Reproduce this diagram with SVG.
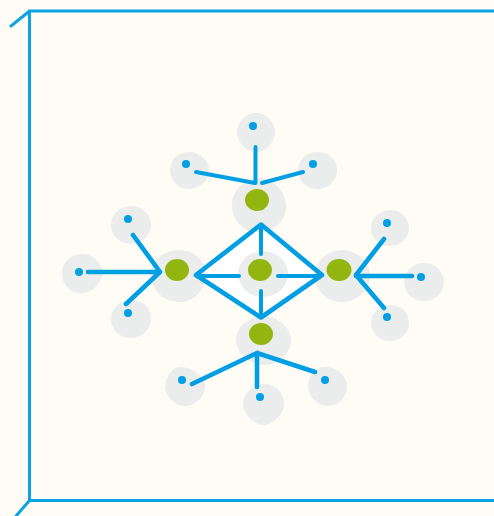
<svg xmlns="http://www.w3.org/2000/svg" width="494" height="516" viewBox="0 0 494 516">
<style>
.l{fill:none;stroke:#009fe3;stroke-width:4;stroke-linecap:round;stroke-linejoin:round}
.m{fill:none;stroke:#009fe3;stroke-width:4.600;stroke-linecap:round;stroke-linejoin:round}
.f{fill:none;stroke:#0ba3e4;stroke-width:3;stroke-linecap:round;stroke-linejoin:miter}
.b{fill:#ebeded}
.g{fill:#92b60f}
.d{fill:#009fe3}
</style>
<rect width="494" height="516" fill="#fffcf5"/>
<g id="frame"><path class="f" d="M494 11H29.500V500.500H494M29 11.500L11 26M29.500 500.500L16 516"/></g>
<path id="diamond-fill" d="M195 275L261 224L322 275L261 318Z" fill="#ffffff"/>
<g id="node-top"><path class="b" d="M259 178C270 178 277 185 282 192C287 200 288 212 282 220C276 229 266 232 258 232C248 232 238 226 234 216C230 205 232 194 240 186C245 181 252 178 259 178Z"/><ellipse class="g" cx="257" cy="200" rx="12" ry="11"/></g>
<g id="leaf-top-1"><path class="b" d="M256 113C266 113 275 122 275 132C275 142 266 152 256 152C246 152 237 142 237 132C237 122 246 113 256 113Z"/><circle class="d" cx="253" cy="126" r="4"/></g>
<g id="leaf-top-2"><path class="b" d="M189 152C200 152 209 161 209 171C209 181 199 189 188 189C178 189 170 180 170 170C170 159 179 152 189 152Z"/><circle class="d" cx="186" cy="164" r="4"/></g>
<g id="leaf-top-3"><path class="b" d="M318 152C329 152 337 160 337 170C337 181 328 189 317 189C306 189 298 180 298 170C298 160 307 151 318 152Z"/><circle class="d" cx="313" cy="164" r="4"/></g>
<g id="node-left"><path class="b" d="M180 250C192 250 203 258 206 270C208 283 198 302 180 302C165 302 153 292 151 278C149 262 163 250 180 250Z"/><ellipse class="g" cx="177" cy="270" rx="12" ry="11"/></g>
<g id="leaf-left-1"><ellipse class="b" cx="131" cy="225" rx="20" ry="19"/><circle class="d" cx="128" cy="219" r="4"/></g>
<g id="leaf-left-2"><path class="b" d="M82 254C90 254 96 258 101 266C104 271 103 276 100 281C96 289 89 293 81 293C70 293 62 284 62 273C62 263 71 254 82 254Z"/><circle class="d" cx="79" cy="272" r="4"/></g>
<g id="leaf-left-3"><path class="b" d="M131 300C142 300 151 308 151 318C151 329 142 338 130 338C119 338 111 329 111 319C111 309 120 300 131 300Z"/><circle class="d" cx="128" cy="313" r="4"/></g>
<g id="node-center"><ellipse class="b" cx="263" cy="274" rx="25" ry="23"/><ellipse class="g" cx="260" cy="270" rx="12" ry="11"/></g>
<g id="node-right"><path class="b" d="M342 250C356 250 368 260 370 274C371 290 357 302 342 302C326 302 316 290 314 276C316 260 328 250 342 250Z"/><ellipse class="g" cx="339" cy="270" rx="12.500" ry="11"/></g>
<g id="leaf-right-1"><ellipse class="b" cx="390" cy="228" rx="19" ry="18"/><circle class="d" cx="387" cy="223" r="4"/></g>
<g id="leaf-right-2"><ellipse class="b" cx="424" cy="282" rx="20" ry="19"/><circle class="d" cx="421" cy="277" r="4"/></g>
<g id="leaf-right-3"><ellipse class="b" cx="390" cy="323" rx="19" ry="18"/><circle class="d" cx="387" cy="317" r="4"/></g>
<g id="node-bottom"><path class="b" d="M264 316C278 316 291 328 291 340C291 354 278 365 264 365C250 365 236 353 236 340C236 326 250 316 264 316Z"/><ellipse class="g" cx="261" cy="334" rx="12" ry="11"/></g>
<g id="leaf-bottom-1"><path class="b" d="M181 367C193 368 205 376 205 386C205 397 195 406 185 406C175 406 165 396 165 387C166 376 172 367 181 367Z"/><circle class="d" cx="182" cy="380" r="4"/></g>
<g id="leaf-bottom-2"><path class="b" d="M264 384C275 384 284 392 284 404C284 415 272 425 263 425C253 425 243 412 243 404C243 393 253 385 264 384Z"/><circle class="d" cx="260" cy="397" r="4"/></g>
<g id="leaf-bottom-3"><path class="b" d="M325 367C338 367 347 376 347 387C347 397 338 406 328 406C317 406 308 396 308 386C308 375 315 367 325 367Z"/><circle class="d" cx="325" cy="380" r="4"/></g>
<g id="connectors">
<path class="m" d="M196 275L261 224.500L322 275L261 317.500Z"/>
<path class="l" d="M261 226V254M261 291V316M197 276H239M278 276H320"/>
<path class="l" d="M255.500 147V183M196 172L255 183M262 183L303 172"/>
<path class="m" d="M133 235L160 272M88 272H160M126 304L160 272"/>
<path class="m" d="M384 239L356 275M412 276H356M384 308L356 275"/>
<path class="m" d="M192 384L257 353M257 387V353M315 372L257 353"/>
</g>
</svg>
